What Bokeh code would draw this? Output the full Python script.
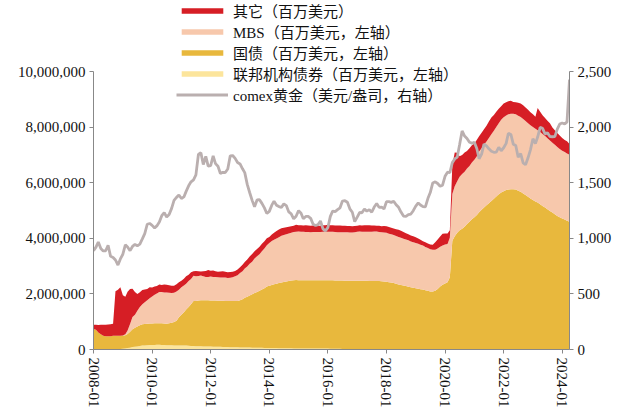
import pandas as pd
from bokeh.plotting import figure
from bokeh.models import (Range1d, LinearAxis, Legend, LegendItem, NumeralTickFormatter,
                          FixedTicker, DatetimeTickFormatter)
from bokeh.embed import file_html
from bokeh.resources import INLINE

# monthly, 2008-01 .. 2024-04 (values in billions USD -> plotted in millions)
dates = pd.date_range("2008-01-01", "2024-04-01", freq="MS")

agency_bn = [
    0, 0, 0, 0, 0, 0, 0, 0, 5, 15, 20, 20,
    25, 40, 50, 65, 90, 100, 110, 125, 140, 145, 155, 160,
    163, 166, 169, 168, 165, 160, 155, 153, 150, 148, 147, 147,
    145, 143, 140, 135, 130, 125, 120, 117, 114, 112, 110, 108,
    105, 102, 100, 97, 95, 92, 88, 86, 84, 82, 80, 77,
    75, 73, 72, 70, 68, 67, 65, 63, 62, 60, 58, 57,
    55, 54, 52, 50, 48, 46, 44, 43, 42, 41, 40, 39,
    38, 37, 37, 36, 36, 35, 35, 34, 34, 33, 33, 33,
    32, 31, 30, 28, 26, 24, 22, 20, 19, 18, 17, 17,
    15, 13, 11, 10, 8, 7, 6, 5, 5, 4, 4, 4,
    3, 3, 3, 3, 3, 3, 3, 3, 3, 3, 3, 3,
    2, 2, 2, 2, 2, 2, 2, 2, 2, 2, 2, 2,
    2, 2, 2, 2, 2, 2, 2, 2, 2, 2, 2, 2,
    2, 2, 2, 2, 2, 2, 2, 2, 2, 2, 2, 2,
    2, 2, 2, 2, 2, 2, 2, 2, 2, 2, 2, 2,
    2, 2, 2, 2, 2, 2, 2, 2, 2, 2, 2, 2,
    2, 2, 2, 2,
]

treasury_bn = [
    740, 713, 613, 548, 492, 478, 479, 479, 491, 476, 476, 476,
    475, 475, 511, 570, 639, 686, 717, 753, 766, 774, 776, 777,
    777, 777, 777, 777, 777, 777, 777, 792, 812, 842, 891, 1016,
    1110, 1200, 1300, 1400, 1500, 1620, 1630, 1650, 1660, 1665, 1665, 1663,
    1663, 1663, 1663, 1663, 1663, 1663, 1663, 1663, 1663, 1663, 1663, 1666,
    1700, 1740, 1790, 1830, 1880, 1920, 1970, 2010, 2050, 2100, 2150, 2210,
    2240, 2270, 2300, 2320, 2350, 2370, 2390, 2410, 2430, 2445, 2455, 2461,
    2461, 2461, 2461, 2461, 2461, 2461, 2461, 2461, 2461, 2461, 2461, 2461,
    2461, 2461, 2461, 2461, 2461, 2461, 2461, 2461, 2461, 2461, 2461, 2461,
    2465, 2465, 2465, 2465, 2465, 2465, 2465, 2465, 2465, 2460, 2454, 2450,
    2440, 2420, 2410, 2390, 2370, 2340, 2320, 2300, 2280, 2260, 2240, 2220,
    2200, 2190, 2170, 2160, 2130, 2110, 2090, 2090, 2110, 2180, 2270, 2330,
    2380, 2420, 2600, 3920, 4080, 4200, 4290, 4350, 4420, 4520, 4600, 4690,
    4760, 4840, 4940, 5030, 5110, 5190, 5270, 5350, 5430, 5510, 5590, 5650,
    5700, 5740, 5760, 5770, 5770, 5760, 5720, 5680, 5620, 5560, 5500, 5440,
    5380, 5330, 5290, 5230, 5170, 5110, 5050, 4990, 4930, 4870, 4810, 4760,
    4720, 4680, 4640, 4600,
]

mbs_bn = [
    0, 0, 0, 0, 0, 0, 0, 0, 0, 0, 0, 0,
    0, 30, 120, 280, 440, 470, 570, 650, 720, 780, 840, 910,
    970, 1030, 1070, 1130, 1130, 1120, 1120, 1100, 1070, 1050, 1050, 990,
    990, 960, 930, 930, 910, 910, 890, 880, 890, 860, 840, 840,
    860, 850, 850, 840, 840, 840, 840, 830, 840, 860, 900, 930,
    980, 1010, 1060, 1090, 1140, 1170, 1240, 1290, 1320, 1380, 1430, 1490,
    1540, 1580, 1600, 1630, 1650, 1680, 1690, 1700, 1710, 1720, 1740, 1740,
    1750, 1740, 1740, 1740, 1740, 1730, 1740, 1740, 1740, 1740, 1750, 1750,
    1750, 1750, 1750, 1740, 1740, 1740, 1740, 1740, 1740, 1740, 1740, 1750,
    1760, 1770, 1770, 1770, 1770, 1770, 1770, 1780, 1780, 1770, 1770, 1760,
    1760, 1750, 1740, 1730, 1720, 1710, 1700, 1690, 1680, 1670, 1650, 1640,
    1630, 1620, 1600, 1580, 1560, 1540, 1520, 1500, 1480, 1460, 1430, 1410,
    1400, 1380, 1420, 1680, 1800, 1860, 1930, 1970, 1980, 2000, 2010, 2040,
    2070, 2120, 2190, 2220, 2260, 2300, 2350, 2400, 2450, 2500, 2560, 2620,
    2660, 2690, 2710, 2720, 2720, 2710, 2700, 2690, 2680, 2670, 2650, 2640,
    2630, 2620, 2610, 2600, 2590, 2580, 2560, 2540, 2520, 2500, 2480, 2460,
    2440, 2430, 2420, 2410,
]

# top edge of the stack (total incl. "other")
total_bn = [
    890, 890, 885, 890, 890, 895, 905, 910, 930, 2100, 2150, 2240,
    1950, 1900, 2080, 2180, 2190, 2070, 2000, 2060, 2140, 2160, 2180, 2240,
    2230, 2270, 2290, 2340, 2320, 2340, 2330, 2310, 2300, 2300, 2350, 2420,
    2480, 2550, 2640, 2690, 2780, 2820, 2830, 2820, 2810, 2820, 2830, 2860,
    2840, 2850, 2820, 2800, 2810, 2820, 2800, 2780, 2790, 2800, 2830, 2880,
    2960, 3050, 3150, 3240, 3350, 3440, 3540, 3620, 3700, 3810, 3900, 4010,
    4050, 4140, 4210, 4270, 4320, 4370, 4390, 4400, 4420, 4440, 4460, 4490,
    4480, 4480, 4470, 4480, 4470, 4460, 4470, 4470, 4460, 4460, 4480, 4480,
    4490, 4480, 4480, 4470, 4470, 4470, 4460, 4460, 4450, 4450, 4440, 4450,
    4460, 4480, 4470, 4480, 4480, 4480, 4470, 4470, 4460, 4460, 4440, 4450,
    4440, 4410, 4390, 4360, 4330, 4310, 4280, 4230, 4190, 4150, 4110, 4080,
    4040, 4000, 3950, 3900, 3860, 3820, 3780, 3770, 3860, 3960, 4070, 4170,
    4180, 4180, 4300, 6650, 7100, 7090, 6960, 7010, 7100, 7150, 7250, 7360,
    7420, 7560, 7680, 7810, 7930, 8060, 8210, 8360, 8450, 8560, 8670, 8760,
    8860, 8910, 8940, 8960, 8920, 8910, 8890, 8860, 8800, 8720, 8640, 8550,
    8470, 8380, 8700, 8560, 8440, 8340, 8240, 8150, 8000, 7900, 7800, 7710,
    7620, 7550, 7500, 7400,
]

gold = [
    889, 922, 968, 909, 888, 889, 939, 839, 829, 806, 760, 816,
    858, 943, 924, 890, 928, 946, 934, 949, 996, 1044, 1128, 1135,
    1118, 1095, 1113, 1148, 1205, 1233, 1193, 1215, 1271, 1343, 1370, 1391,
    1360, 1374, 1424, 1474, 1510, 1528, 1572, 1756, 1772, 1666, 1739, 1652,
    1656, 1743, 1674, 1650, 1585, 1596, 1594, 1626, 1744, 1747, 1721, 1684,
    1671, 1627, 1593, 1487, 1414, 1343, 1286, 1347, 1349, 1316, 1275, 1225,
    1244, 1300, 1336, 1299, 1287, 1280, 1311, 1296, 1239, 1222, 1176, 1200,
    1251, 1227, 1178, 1198, 1198, 1181, 1128, 1117, 1125, 1157, 1086, 1068,
    1097, 1199, 1246, 1242, 1260, 1276, 1337, 1340, 1326, 1267, 1236, 1151,
    1192, 1234, 1231, 1266, 1246, 1260, 1236, 1283, 1315, 1280, 1283, 1265,
    1331, 1331, 1325, 1335, 1304, 1281, 1238, 1202, 1199, 1215, 1220, 1250,
    1291, 1320, 1301, 1286, 1284, 1359, 1413, 1500, 1510, 1495, 1470, 1480,
    1560, 1597, 1592, 1683, 1716, 1732, 1846, 1968, 1922, 1900, 1866, 1858,
    1867, 1808, 1718, 1760, 1850, 1834, 1807, 1785, 1776, 1777, 1821, 1790,
    1817, 1856, 1948, 1937, 1849, 1837, 1732, 1765, 1681, 1664, 1726, 1798,
    1898, 1855, 1913, 2000, 1992, 1942, 1951, 1918, 1916, 1917, 1985, 2030,
    2040, 2030, 2050, 2430,
]

year_ticks = [2008, 2010, 2012, 2014, 2016, 2018, 2020, 2022, 2024]
left_ticks = [0, 2000000, 4000000, 6000000, 8000000, 10000000]
right_ticks = [0, 500, 1000, 1500, 2000, 2500]

# stack (millions USD)
s_agency = [a * 1000 for a in agency_bn]
s_tsy = [(a + t) * 1000 for a, t in zip(agency_bn, treasury_bn)]
s_mbs = [(a + t + m) * 1000 for a, t, m in zip(agency_bn, treasury_bn, mbs_bn)]
s_total = [v * 1000 for v in total_bn]
zero = [0] * len(dates)

FONT = "Liberation Serif, Noto Sans CJK SC"
AX = "#888888"

# frame reaches to the top of the page so the legend is not clipped;
# axis lines are bounded to the visible scale (0..10M / 0..2500)
p = figure(width=617, height=410, x_axis_type="datetime", output_backend="svg",
           toolbar_location=None,
           x_range=Range1d(dates[0], dates[-1]), y_range=Range1d(0, 12500000),
           min_border_left=93, min_border_right=48, min_border_top=2, min_border_bottom=58)
p.extra_y_ranges = {"gold": Range1d(0, 3125)}
p.outline_line_color = None
p.xgrid.visible = False
p.ygrid.visible = False
p.background_fill_color = "white"

r_ag = p.varea(x=dates, y1=zero, y2=s_agency, fill_color="#FCE59C")
r_tsy = p.varea(x=dates, y1=s_agency, y2=s_tsy, fill_color="#E8B83D")
r_mbs = p.varea(x=dates, y1=s_tsy, y2=s_mbs, fill_color="#F7C8AC")
r_oth = p.varea(x=dates, y1=s_mbs, y2=s_total, fill_color="#D61E25")
r_gold = p.line(x=dates, y=gold, y_range_name="gold", line_color="#BAAFAF", line_width=2.8)

ax_r = LinearAxis(y_range_name="gold")
p.add_layout(ax_r, "right")

ts = [pd.Timestamp(f"{y}-01-01").timestamp() * 1000 for y in year_ticks]
p.xaxis.ticker = FixedTicker(ticks=ts)
fmt = "%Y-%m"
p.xaxis.formatter = DatetimeTickFormatter(years=fmt, months=fmt, days=fmt, hours=fmt,
                                          minutes=fmt, seconds=fmt, milliseconds=fmt,
                                          microseconds=fmt, hourmin=fmt, minsec=fmt)
p.xaxis.major_label_orientation = "vertical"
p.yaxis[0].ticker = FixedTicker(ticks=left_ticks)
p.yaxis[0].formatter = NumeralTickFormatter(format="0,0")
p.yaxis[0].bounds = (0, 10000000)
ax_r.ticker = FixedTicker(ticks=right_ticks)
ax_r.formatter = NumeralTickFormatter(format="0,0")
ax_r.bounds = (0, 2500)

for ax in p.axis:
    ax.axis_line_color = AX
    ax.major_tick_line_color = AX
    ax.major_tick_out = 4
    ax.major_tick_in = 0
    ax.minor_tick_line_color = None
    ax.major_label_text_font = FONT
    ax.major_label_text_font_size = "15px"
    ax.major_label_text_color = "#111111"
    ax.major_label_standoff = 4

legend = Legend(items=[
    LegendItem(label="其它（百万美元）", renderers=[r_oth]),
    LegendItem(label="MBS（百万美元，左轴）", renderers=[r_mbs]),
    LegendItem(label="国债（百万美元，左轴）", renderers=[r_tsy]),
    LegendItem(label="联邦机构债券（百万美元，左轴）", renderers=[r_ag]),
    LegendItem(label="comex黄金（美元/盎司，右轴）", renderers=[r_gold]),
], location=(83, 244), orientation="vertical", background_fill_alpha=0,
    border_line_alpha=0, padding=0, margin=0, spacing=0, glyph_width=52, glyph_height=7,
    label_height=20, label_standoff=5, label_text_font_size="15px", label_text_font=FONT,
    label_text_color="#111111")
p.add_layout(legend)

open("out.html", "w").write(file_html(p, INLINE))
